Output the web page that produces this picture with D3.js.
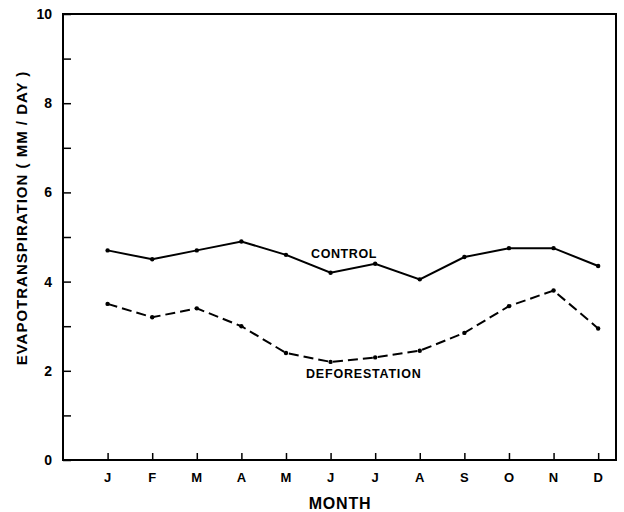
<!DOCTYPE html>
<html>
<head>
<meta charset="utf-8">
<script src="https://cdn.jsdelivr.net/npm/d3@7"></script>
<style>
  body { margin: 0; background: #fff; }
  text { font-family: "Liberation Sans", Arial, sans-serif; font-weight: bold; fill: #000; }
</style>
</head>
<body>
<div id="chart"></div>
<script>
// data
var months = ["J", "F", "M", "A", "M", "J", "J", "A", "S", "O", "N", "D"]
var control = [4.7, 4.5, 4.7, 4.9, 4.6, 4.2, 4.4, 4.05, 4.55, 4.75, 4.75, 4.35]
var deforestation = [3.5, 3.2, 3.4, 3.0, 2.4, 2.2, 2.3, 2.45, 2.85, 3.45, 3.8, 2.95]
var yTicks = [0, 2, 4, 6, 8, 10]

var width = 624, height = 512
// plot box edges (note: "top" is a reserved window prop, so use plot* names)
var plotLeft = 63, plotRight = 616, plotTop = 14, plotBottom = 460

var svg = d3.select("#chart").append("svg")
    .attr("width", width)
    .attr("height", height)

var x = d3.scaleLinear().domain([0, 12.4]).range([plotLeft, plotRight])
var y = d3.scaleLinear().domain([0, 10]).range([plotBottom, plotTop])

// frame
svg.append("rect")
    .attr("x", plotLeft).attr("y", plotTop)
    .attr("width", plotRight - plotLeft).attr("height", plotBottom - plotTop)
    .attr("fill", "none").attr("stroke", "#000").attr("stroke-width", 2)

// y axis: inward ticks every unit, labels on even
var yAxis = d3.axisRight(y).ticks(10).tickSize(8).tickFormat("")
svg.append("g").attr("transform", "translate(" + plotLeft + ",0)").call(yAxis)
    .call(function (g) {
        g.select(".domain").remove()
        g.selectAll("line").attr("stroke-width", 1.5)
    })
svg.selectAll(".ylab").data(yTicks).enter().append("text")
    .attr("x", 52).attr("y", function (d) { return y(d) })
    .attr("dy", "0.35em")
    .attr("text-anchor", "end")
    .style("font-size", "14px")
    .text(function (d) { return d })

// x axis: inward ticks at months
var xAxis = d3.axisTop(x).tickValues(d3.range(1, 13)).tickSize(7).tickFormat("")
svg.append("g").attr("transform", "translate(0," + plotBottom + ")").call(xAxis)
    .call(function (g) {
        g.select(".domain").remove()
        g.selectAll("line").attr("stroke-width", 1.5)
    })
svg.selectAll(".xlab").data(months).enter().append("text")
    .attr("x", function (d, i) { return x(i + 1) })
    .attr("y", 477)
    .attr("dy", "0.35em")
    .attr("text-anchor", "middle")
    .style("font-size", "13px")
    .text(function (d) { return d })

svg.append("text")
    .attr("x", 340).attr("y", 503).attr("dy", "0.35em")
    .attr("text-anchor", "middle")
    .style("font-size", "16px")
    .style("letter-spacing", "0.8px")
    .text("MONTH")

svg.append("text")
    .attr("transform", "translate(22,218) rotate(-90)")
    .attr("dy", "0.35em")
    .attr("text-anchor", "middle")
    .style("font-size", "15px")
    .style("letter-spacing", "1px")
    .text("EVAPOTRANSPIRATION ( MM / DAY )")

// lines
var line = d3.line()
    .x(function (d, i) { return x(i + 1) })
    .y(function (d) { return y(d) })

svg.append("path").datum(control)
    .attr("d", line).attr("fill", "none")
    .attr("stroke", "#000").attr("stroke-width", 2)

svg.append("path").datum(deforestation)
    .attr("d", line).attr("fill", "none")
    .attr("stroke", "#000").attr("stroke-width", 2)
    .attr("stroke-dasharray", "10,5")

svg.selectAll(".pc").data(control).enter().append("circle")
    .attr("cx", function (d, i) { return x(i + 1) })
    .attr("cy", function (d) { return y(d) })
    .attr("r", 2.2).attr("fill", "#000")
svg.selectAll(".pd").data(deforestation).enter().append("circle")
    .attr("cx", function (d, i) { return x(i + 1) })
    .attr("cy", function (d) { return y(d) })
    .attr("r", 2.2).attr("fill", "#000")

// series labels
svg.append("text")
    .attr("x", 311).attr("y", 254).attr("dy", "0.35em")
    .style("font-size", "12.5px")
    .style("letter-spacing", "0.6px")
    .text("CONTROL")
svg.append("text")
    .attr("x", 306).attr("y", 374).attr("dy", "0.35em")
    .style("font-size", "12.5px")
    .style("letter-spacing", "0.8px")
    .text("DEFORESTATION")
</script>
</body>
</html>
